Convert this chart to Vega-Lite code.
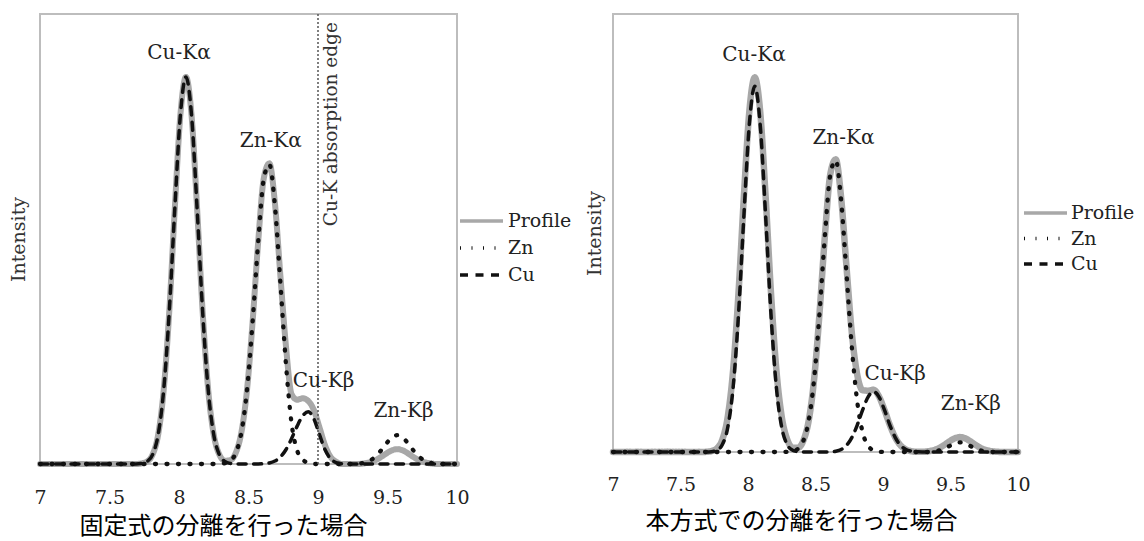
{
"$schema":"https://vega.github.io/schema/vega-lite/v6.json",
"background":"white",
"padding":{"left":8,"top":12,"right":0,"bottom":0},
"datasets":{
"A":[
{"s":"Profile","x":7,"y":0},{"s":"Profile","x":7.69,"y":0},{"s":"Profile","x":7.73,"y":0.0012},{"s":"Profile","x":7.77,"y":0.0055},{"s":"Profile","x":7.81,"y":0.0209},{"s":"Profile","x":7.85,"y":0.065},{"s":"Profile","x":7.89,"y":0.165},{"s":"Profile","x":7.93,"y":0.339},{"s":"Profile","x":7.97,"y":0.569},{"s":"Profile","x":8.01,"y":0.776},{"s":"Profile","x":8.05,"y":0.86},{"s":"Profile","x":8.09,"y":0.776},{"s":"Profile","x":8.13,"y":0.569},{"s":"Profile","x":8.17,"y":0.339},{"s":"Profile","x":8.21,"y":0.165},{"s":"Profile","x":8.25,"y":0.065},{"s":"Profile","x":8.29,"y":0.021},{"s":"Profile","x":8.33,"y":0.0073},{"s":"Profile","x":8.37,"y":0.0086},{"s":"Profile","x":8.41,"y":0.026},{"s":"Profile","x":8.45,"y":0.0722},{"s":"Profile","x":8.49,"y":0.167},{"s":"Profile","x":8.53,"y":0.318},{"s":"Profile","x":8.57,"y":0.495},{"s":"Profile","x":8.61,"y":0.635},{"s":"Profile","x":8.65,"y":0.668},{"s":"Profile","x":8.69,"y":0.58},{"s":"Profile","x":8.73,"y":0.416},{"s":"Profile","x":8.77,"y":0.26},{"s":"Profile","x":8.81,"y":0.155},{"s":"Profile","x":8.85,"y":0.143},{"s":"Profile","x":8.89,"y":0.146},{"s":"Profile","x":8.93,"y":0.14},{"s":"Profile","x":8.97,"y":0.12},{"s":"Profile","x":9.01,"y":0.082},{"s":"Profile","x":9.05,"y":0.042},{"s":"Profile","x":9.09,"y":0.016},{"s":"Profile","x":9.13,"y":0.005},{"s":"Profile","x":9.17,"y":0},{"s":"Profile","x":9.29,"y":0},{"s":"Profile","x":9.33,"y":0.0013},{"s":"Profile","x":9.37,"y":0.0036},{"s":"Profile","x":9.41,"y":0.008},{"s":"Profile","x":9.45,"y":0.0149},{"s":"Profile","x":9.49,"y":0.0231},{"s":"Profile","x":9.53,"y":0.0302},{"s":"Profile","x":9.57,"y":0.033},{"s":"Profile","x":9.61,"y":0.0302},{"s":"Profile","x":9.65,"y":0.0231},{"s":"Profile","x":9.69,"y":0.0149},{"s":"Profile","x":9.73,"y":0.008},{"s":"Profile","x":9.77,"y":0.0036},{"s":"Profile","x":9.81,"y":0.0013},{"s":"Profile","x":9.85,"y":0},{"s":"Profile","x":10,"y":0},
{"s":"Zn","x":7,"y":0},{"s":"Zn","x":8.25,"y":0},{"s":"Zn","x":8.29,"y":0.0003},{"s":"Zn","x":8.33,"y":0.0018},{"s":"Zn","x":8.37,"y":0.0074},{"s":"Zn","x":8.41,"y":0.0256},{"s":"Zn","x":8.45,"y":0.0722},{"s":"Zn","x":8.49,"y":0.167},{"s":"Zn","x":8.53,"y":0.318},{"s":"Zn","x":8.57,"y":0.495},{"s":"Zn","x":8.61,"y":0.634},{"s":"Zn","x":8.65,"y":0.666},{"s":"Zn","x":8.69,"y":0.574},{"s":"Zn","x":8.73,"y":0.4},{"s":"Zn","x":8.77,"y":0.22},{"s":"Zn","x":8.81,"y":0.09},{"s":"Zn","x":8.85,"y":0.03},{"s":"Zn","x":8.89,"y":0.01},{"s":"Zn","x":8.93,"y":0.002},{"s":"Zn","x":8.97,"y":0},{"s":"Zn","x":9.25,"y":0},{"s":"Zn","x":9.29,"y":0.0008},{"s":"Zn","x":9.33,"y":0.0026},{"s":"Zn","x":9.37,"y":0.007},{"s":"Zn","x":9.41,"y":0.0155},{"s":"Zn","x":9.45,"y":0.0288},{"s":"Zn","x":9.49,"y":0.0449},{"s":"Zn","x":9.53,"y":0.0586},{"s":"Zn","x":9.57,"y":0.064},{"s":"Zn","x":9.61,"y":0.0586},{"s":"Zn","x":9.65,"y":0.0449},{"s":"Zn","x":9.69,"y":0.0288},{"s":"Zn","x":9.73,"y":0.0155},{"s":"Zn","x":9.77,"y":0.007},{"s":"Zn","x":9.81,"y":0.0026},{"s":"Zn","x":9.85,"y":0.0008},{"s":"Zn","x":9.89,"y":0},{"s":"Zn","x":10,"y":0},
{"s":"Cu","x":7,"y":0},{"s":"Cu","x":7.69,"y":0},{"s":"Cu","x":7.73,"y":0.0012},{"s":"Cu","x":7.77,"y":0.0055},{"s":"Cu","x":7.81,"y":0.0209},{"s":"Cu","x":7.85,"y":0.065},{"s":"Cu","x":7.89,"y":0.165},{"s":"Cu","x":7.93,"y":0.339},{"s":"Cu","x":7.97,"y":0.569},{"s":"Cu","x":8.01,"y":0.776},{"s":"Cu","x":8.05,"y":0.86},{"s":"Cu","x":8.09,"y":0.776},{"s":"Cu","x":8.13,"y":0.569},{"s":"Cu","x":8.17,"y":0.339},{"s":"Cu","x":8.21,"y":0.165},{"s":"Cu","x":8.25,"y":0.065},{"s":"Cu","x":8.29,"y":0.0209},{"s":"Cu","x":8.33,"y":0.0055},{"s":"Cu","x":8.37,"y":0.0012},{"s":"Cu","x":8.41,"y":0},{"s":"Cu","x":8.57,"y":0},{"s":"Cu","x":8.61,"y":0.0007},{"s":"Cu","x":8.65,"y":0.0023},{"s":"Cu","x":8.69,"y":0.0065},{"s":"Cu","x":8.73,"y":0.0157},{"s":"Cu","x":8.77,"y":0.0322},{"s":"Cu","x":8.81,"y":0.0565},{"s":"Cu","x":8.85,"y":0.0842},{"s":"Cu","x":8.89,"y":0.107},{"s":"Cu","x":8.93,"y":0.116},{"s":"Cu","x":8.97,"y":0.1006},{"s":"Cu","x":9.01,"y":0.0657},{"s":"Cu","x":9.05,"y":0.0322},{"s":"Cu","x":9.09,"y":0.0119},{"s":"Cu","x":9.13,"y":0.0033},{"s":"Cu","x":9.17,"y":0.0007},{"s":"Cu","x":9.21,"y":0},{"s":"Cu","x":10,"y":0}
],
"B":[
{"s":"Profile","x":7,"y":0},{"s":"Profile","x":7.65,"y":0},{"s":"Profile","x":7.69,"y":0.0004},{"s":"Profile","x":7.73,"y":0.0021},{"s":"Profile","x":7.77,"y":0.0083},{"s":"Profile","x":7.81,"y":0.0285},{"s":"Profile","x":7.85,"y":0.0805},{"s":"Profile","x":7.89,"y":0.188},{"s":"Profile","x":7.93,"y":0.365},{"s":"Profile","x":7.97,"y":0.586},{"s":"Profile","x":8.01,"y":0.778},{"s":"Profile","x":8.05,"y":0.855},{"s":"Profile","x":8.09,"y":0.778},{"s":"Profile","x":8.13,"y":0.586},{"s":"Profile","x":8.17,"y":0.365},{"s":"Profile","x":8.21,"y":0.188},{"s":"Profile","x":8.25,"y":0.0805},{"s":"Profile","x":8.29,"y":0.029},{"s":"Profile","x":8.33,"y":0.01},{"s":"Profile","x":8.37,"y":0.0095},{"s":"Profile","x":8.41,"y":0.026},{"s":"Profile","x":8.45,"y":0.0722},{"s":"Profile","x":8.49,"y":0.167},{"s":"Profile","x":8.53,"y":0.318},{"s":"Profile","x":8.57,"y":0.495},{"s":"Profile","x":8.61,"y":0.635},{"s":"Profile","x":8.65,"y":0.668},{"s":"Profile","x":8.69,"y":0.58},{"s":"Profile","x":8.73,"y":0.421},{"s":"Profile","x":8.77,"y":0.269},{"s":"Profile","x":8.81,"y":0.175},{"s":"Profile","x":8.85,"y":0.141},{"s":"Profile","x":8.89,"y":0.14},{"s":"Profile","x":8.93,"y":0.142},{"s":"Profile","x":8.97,"y":0.127},{"s":"Profile","x":9.01,"y":0.0967},{"s":"Profile","x":9.05,"y":0.0621},{"s":"Profile","x":9.09,"y":0.0334},{"s":"Profile","x":9.13,"y":0.015},{"s":"Profile","x":9.17,"y":0.0057},{"s":"Profile","x":9.21,"y":0.0018},{"s":"Profile","x":9.25,"y":0.0005},{"s":"Profile","x":9.29,"y":0.0004},{"s":"Profile","x":9.33,"y":0.0014},{"s":"Profile","x":9.37,"y":0.0037},{"s":"Profile","x":9.41,"y":0.0082},{"s":"Profile","x":9.45,"y":0.0153},{"s":"Profile","x":9.49,"y":0.0238},{"s":"Profile","x":9.53,"y":0.0311},{"s":"Profile","x":9.57,"y":0.034},{"s":"Profile","x":9.61,"y":0.0311},{"s":"Profile","x":9.65,"y":0.0238},{"s":"Profile","x":9.69,"y":0.0153},{"s":"Profile","x":9.73,"y":0.0082},{"s":"Profile","x":9.77,"y":0.0037},{"s":"Profile","x":9.81,"y":0.0014},{"s":"Profile","x":9.85,"y":0.0004},{"s":"Profile","x":9.89,"y":0},{"s":"Profile","x":10,"y":0},
{"s":"Zn","x":7,"y":0},{"s":"Zn","x":8.25,"y":0},{"s":"Zn","x":8.29,"y":0.0003},{"s":"Zn","x":8.33,"y":0.0018},{"s":"Zn","x":8.37,"y":0.0074},{"s":"Zn","x":8.41,"y":0.0256},{"s":"Zn","x":8.45,"y":0.0722},{"s":"Zn","x":8.49,"y":0.167},{"s":"Zn","x":8.53,"y":0.318},{"s":"Zn","x":8.57,"y":0.495},{"s":"Zn","x":8.61,"y":0.634},{"s":"Zn","x":8.65,"y":0.666},{"s":"Zn","x":8.69,"y":0.574},{"s":"Zn","x":8.73,"y":0.406},{"s":"Zn","x":8.77,"y":0.236},{"s":"Zn","x":8.81,"y":0.113},{"s":"Zn","x":8.85,"y":0.044},{"s":"Zn","x":8.89,"y":0.0141},{"s":"Zn","x":8.93,"y":0.0038},{"s":"Zn","x":8.97,"y":0.0008},{"s":"Zn","x":9.01,"y":0},{"s":"Zn","x":9.33,"y":0},{"s":"Zn","x":9.37,"y":0.001},{"s":"Zn","x":9.41,"y":0.003},{"s":"Zn","x":9.45,"y":0.0071},{"s":"Zn","x":9.49,"y":0.0133},{"s":"Zn","x":9.53,"y":0.0194},{"s":"Zn","x":9.57,"y":0.022},{"s":"Zn","x":9.61,"y":0.0194},{"s":"Zn","x":9.65,"y":0.0133},{"s":"Zn","x":9.69,"y":0.0071},{"s":"Zn","x":9.73,"y":0.003},{"s":"Zn","x":9.77,"y":0.001},{"s":"Zn","x":9.81,"y":0},{"s":"Zn","x":10,"y":0},
{"s":"Cu","x":7,"y":0},{"s":"Cu","x":7.69,"y":0},{"s":"Cu","x":7.73,"y":0.0008},{"s":"Cu","x":7.77,"y":0.0042},{"s":"Cu","x":7.81,"y":0.017},{"s":"Cu","x":7.85,"y":0.0559},{"s":"Cu","x":7.89,"y":0.148},{"s":"Cu","x":7.93,"y":0.316},{"s":"Cu","x":7.97,"y":0.542},{"s":"Cu","x":8.01,"y":0.749},{"s":"Cu","x":8.05,"y":0.835},{"s":"Cu","x":8.09,"y":0.749},{"s":"Cu","x":8.13,"y":0.542},{"s":"Cu","x":8.17,"y":0.316},{"s":"Cu","x":8.21,"y":0.148},{"s":"Cu","x":8.25,"y":0.0559},{"s":"Cu","x":8.29,"y":0.017},{"s":"Cu","x":8.33,"y":0.0042},{"s":"Cu","x":8.37,"y":0.0008},{"s":"Cu","x":8.41,"y":0},{"s":"Cu","x":8.57,"y":0},{"s":"Cu","x":8.61,"y":0.0005},{"s":"Cu","x":8.65,"y":0.0018},{"s":"Cu","x":8.69,"y":0.0057},{"s":"Cu","x":8.73,"y":0.015},{"s":"Cu","x":8.77,"y":0.0334},{"s":"Cu","x":8.81,"y":0.0621},{"s":"Cu","x":8.85,"y":0.0967},{"s":"Cu","x":8.89,"y":0.126},{"s":"Cu","x":8.93,"y":0.138},{"s":"Cu","x":8.97,"y":0.126},{"s":"Cu","x":9.01,"y":0.0967},{"s":"Cu","x":9.05,"y":0.0621},{"s":"Cu","x":9.09,"y":0.0334},{"s":"Cu","x":9.13,"y":0.015},{"s":"Cu","x":9.17,"y":0.0057},{"s":"Cu","x":9.21,"y":0.0018},{"s":"Cu","x":9.25,"y":0.0005},{"s":"Cu","x":9.29,"y":0},{"s":"Cu","x":10,"y":0}
],
"LA":[{"x":8.0,"y":0.9,"t":"Cu-Kα"},{"x":8.66,"y":0.704,"t":"Zn-Kα"},{"x":9.04,"y":0.171,"t":"Cu-Kβ"},{"x":9.615,"y":0.104,"t":"Zn-Kβ"}],
"LB":[{"x":8.044,"y":0.893,"t":"Cu-Kα"},{"x":8.707,"y":0.703,"t":"Zn-Kα"},{"x":9.09,"y":0.164,"t":"Cu-Kβ"},{"x":9.65,"y":0.096,"t":"Zn-Kβ"}],
"E":[{"x":9,"y":0.982,"t":"Cu-K absorption edge"}]
},
"spacing":11,
"hconcat":[
{
"width":417,"height":450,
"title":{"text":"固定式の分離を行った場合","orient":"bottom","anchor":"middle","frame":"group","dx":-25,"offset":8,"font":"Noto Sans CJK JP","fontSize":24,"fontWeight":"normal","color":"#000"},
"layer":[
{"data":{"name":"A"},
"encoding":{
"x":{"field":"x","type":"quantitative","scale":{"domain":[7,10],"nice":false,"zero":false},"axis":{"values":[7,7.5,8,8.5,9,9.5,10],"format":"~g","title":null,"grid":false,"ticks":false,"domain":false,"labelFlush":false,"labelPadding":24}},
"y":{"field":"y","type":"quantitative","scale":{"domain":[0,1],"nice":false},"axis":{"title":"Intensity","labels":false,"ticks":false,"domain":false,"grid":false,"titlePadding":12}},
"color":{"field":"s","type":"nominal","scale":{"domain":["Profile","Zn","Cu"],"range":["#a8a8a8","#111111","#111111"]},"legend":{"title":null,"orient":"none","legendX":420,"legendY":195,"rowPadding":5,"labelOffset":14.5}},
"strokeDash":{"field":"s","type":"nominal","scale":{"domain":["Profile","Zn","Cu"],"range":[[1,0],[1,10.5],[8,7.5]]},"legend":{"title":null,"orient":"none","legendX":420,"legendY":195,"rowPadding":5,"labelOffset":14.5}}
},
"layer":[
{"transform":[{"filter":"datum.s==='Profile'"}],"mark":{"type":"line","interpolate":"monotone","strokeCap":"round","strokeJoin":"round","strokeWidth":6}},
{"transform":[{"filter":"datum.s==='Zn'"}],"mark":{"type":"line","interpolate":"monotone","strokeCap":"round","strokeJoin":"round","strokeWidth":4.3}},
{"transform":[{"filter":"datum.s==='Cu'"}],"mark":{"type":"line","interpolate":"monotone","strokeCap":"round","strokeJoin":"round","strokeWidth":3.5}}
]},
{"data":{"name":"E"},"mark":{"type":"rule","strokeDash":[2,2],"color":"#555555","strokeWidth":1.5},"encoding":{"x":{"field":"x","type":"quantitative"}}},
{"data":{"name":"E"},"mark":{"type":"text","angle":270,"align":"right","baseline":"top","dy":4,"font":"DejaVu Serif","fontSize":18.5,"color":"#333333"},"encoding":{"x":{"field":"x","type":"quantitative"},"y":{"field":"y","type":"quantitative"},"text":{"field":"t"}}},
{"data":{"name":"LA"},"mark":{"type":"text","font":"DejaVu Serif","fontSize":20,"color":"#222222","baseline":"alphabetic"},"encoding":{"x":{"field":"x","type":"quantitative"},"y":{"field":"y","type":"quantitative"},"text":{"field":"t"}}}
]
},
{
"width":405,"height":438,
"title":{"text":"本方式での分離を行った場合","orient":"bottom","anchor":"middle","frame":"group","dx":-14,"offset":16,"font":"Noto Sans CJK JP","fontSize":24,"fontWeight":"normal","color":"#000"},
"layer":[
{"data":{"name":"B"},
"encoding":{
"x":{"field":"x","type":"quantitative","scale":{"domain":[7,10],"nice":false,"zero":false},"axis":{"values":[7,7.5,8,8.5,9,9.5,10],"format":"~g","title":null,"grid":false,"ticks":false,"domain":false,"labelFlush":false,"labelPadding":23}},
"y":{"field":"y","type":"quantitative","scale":{"domain":[0,1],"nice":false},"axis":{"title":"Intensity","labels":false,"ticks":false,"domain":false,"grid":false,"titlePadding":9}},
"color":{"field":"s","type":"nominal","scale":{"domain":["Profile","Zn","Cu"],"range":["#a8a8a8","#111111","#111111"]},"legend":{"title":null,"orient":"none","legendX":411,"legendY":187,"rowPadding":3.5,"labelOffset":13.5}},
"strokeDash":{"field":"s","type":"nominal","scale":{"domain":["Profile","Zn","Cu"],"range":[[1,0],[1,10.5],[8,7.5]]},"legend":{"title":null,"orient":"none","legendX":411,"legendY":187,"rowPadding":3.5,"labelOffset":13.5}}
},
"layer":[
{"transform":[{"filter":"datum.s==='Profile'"}],"mark":{"type":"line","interpolate":"monotone","strokeCap":"round","strokeJoin":"round","strokeWidth":6.5}},
{"transform":[{"filter":"datum.s==='Zn'"}],"mark":{"type":"line","interpolate":"monotone","strokeCap":"round","strokeJoin":"round","strokeWidth":4.3}},
{"transform":[{"filter":"datum.s==='Cu'"}],"mark":{"type":"line","interpolate":"monotone","strokeCap":"round","strokeJoin":"round","strokeWidth":3.5}}
]},
{"data":{"name":"LB"},"mark":{"type":"text","font":"DejaVu Serif","fontSize":20,"color":"#222222","baseline":"alphabetic"},"encoding":{"x":{"field":"x","type":"quantitative"},"y":{"field":"y","type":"quantitative"},"text":{"field":"t"}}}
]
}
],
"resolve":{"scale":{"color":"independent","strokeDash":"independent"}},
"config":{
"view":{"stroke":"#bdbdbd","strokeWidth":2},
"axis":{"labelFont":"DejaVu Serif","labelFontSize":19,"labelColor":"#222222","titleFont":"DejaVu Serif","titleFontSize":19,"titleFontWeight":"normal","titleColor":"#333333"},
"legend":{"labelFont":"DejaVu Serif","labelFontSize":19,"labelColor":"#222222","symbolType":"M-2.15,0H2.15","symbolSize":400,"symbolOffset":9.5,"symbolStrokeWidth":3.5,"encode":{"symbols":{"update":{"strokeCap":{"value":"butt"},"strokeWidth":{"signal":"datum.value === 'Profile' ? 6.5 : datum.value === 'Zn' ? 4.5 : 3.8"},"strokeDash":{"signal":"datum.value === 'Zn' ? [4.5, 7] : datum.value === 'Cu' ? [11, 4.5] : [1, 0]"}}}}}
}
}
